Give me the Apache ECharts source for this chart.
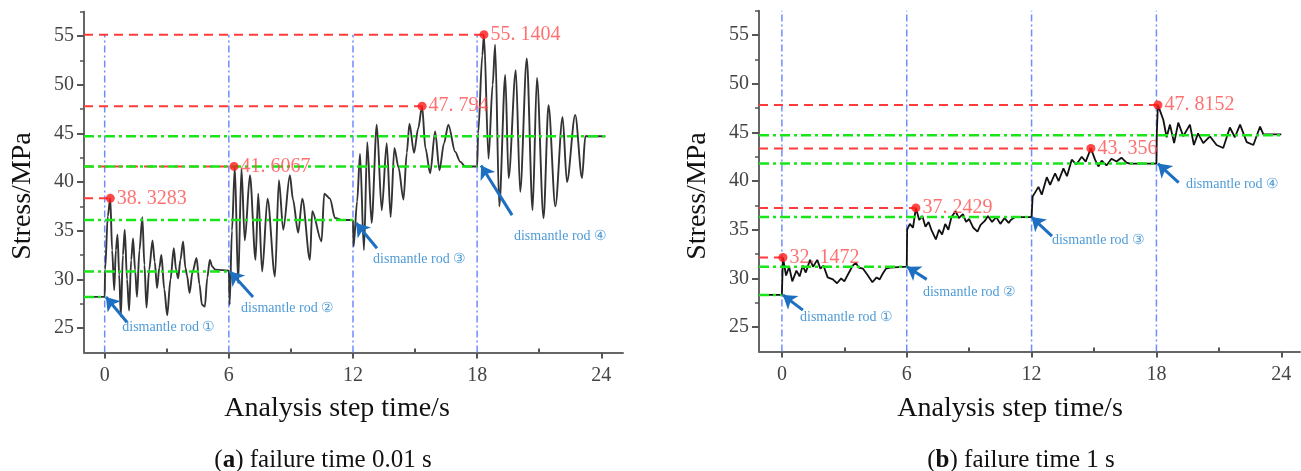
<!DOCTYPE html>
<html>
<head>
<meta charset="utf-8">
<title>Stress vs analysis step time</title>
<script src="https://cdn.jsdelivr.net/npm/echarts@6/dist/echarts.min.js"></script>
<style>
  html, body { margin: 0; padding: 0; background: #fff; }
  #chart { width: 1301px; height: 471px; }
</style>
</head>
<body>
<div id="chart"></div>
<script>
// (a) failure time 0.01 s
var timeA = [-1, 0, 0.02, 0.15, 0.27, 0.36, 0.46, 0.54, 0.62, 0.7, 0.78, 0.88, 0.97, 1.08, 1.18, 1.28, 1.37, 1.47, 1.56, 1.68, 1.82, 1.92, 2.02, 2.15, 2.31, 2.42, 2.53, 2.64, 2.74, 2.88, 3.02, 3.18, 3.34, 3.45, 3.55, 3.66, 3.79, 3.9, 3.98, 4.1, 4.25, 4.44, 4.58, 4.7, 4.84, 4.96, 5.08, 5.2, 5.35, 6.0,
  6.04, 6.15, 6.29, 6.45, 6.61, 6.77, 7.02, 7.29, 7.42, 7.61, 7.87, 8.23, 8.42, 8.63, 8.95, 9.1, 9.35, 9.55, 9.92, 10.03, 10.48, 10.61, 10.89, 11.13, 11.5, 12.0,
  12.03, 12.2, 12.34, 12.53, 12.69, 12.9, 13.15, 13.39, 13.63, 13.82, 14.0, 14.2, 14.44, 14.6, 14.73, 14.95, 15.15, 15.34, 15.5, 15.73, 15.97, 16.18, 16.4, 16.61, 16.94, 17.18, 17.42, 18.0,
  18.05, 18.25, 18.33, 18.55, 18.75, 18.87, 19.07, 19.36, 19.52, 19.87, 20.08, 20.4, 20.68, 20.89, 21.21, 21.45, 21.78, 22.13, 22.34, 22.74, 23.07, 23.23, 24.2];
var stressA = [28.2, 28.2, 31.0, 36.5, 38.33, 33.0, 28.9, 33.0, 34.6, 30.5, 26.2, 32.5, 35.1, 30.0, 26.8, 32.0, 34.2, 31.0, 28.2, 33.0, 36.4, 31.5, 27.1, 31.0, 34.0, 31.8, 29.1, 31.2, 32.5, 29.0, 26.3, 30.0, 33.2, 31.0, 30.1, 32.0, 33.9, 31.2, 30.4, 28.6, 30.8, 32.2, 29.5, 27.4, 27.2, 30.2, 32.0, 31.3, 31.0, 30.9,
  27.4, 35.0, 41.6, 29.6, 41.4, 34.0, 40.7, 32.0, 38.8, 30.8, 38.3, 30.3, 40.2, 35.1, 40.7, 38.2, 34.8, 38.3, 32.0, 37.0, 33.9, 38.8, 38.3, 36.3, 36.1, 36.1,
  33.4, 38.0, 42.9, 33.0, 44.1, 35.8, 45.9, 37.1, 44.0, 36.4, 43.5, 41.5, 38.2, 43.0, 46.0, 43.0, 45.5, 47.79, 43.5, 40.9, 45.2, 41.2, 44.0, 45.9, 43.1, 42.1, 41.6, 41.6,
  45.0, 53.0, 55.14, 42.4, 50.0, 54.1, 37.5, 51.0, 40.4, 51.5, 39.0, 52.7, 37.1, 50.7, 36.3, 47.9, 37.5, 46.7, 40.0, 46.9, 40.4, 44.7, 44.7];

// (b) failure time 1 s
var timeB = [-1.1, 0, 0.05, 0.2, 0.35, 0.5, 0.7, 0.85, 1.0, 1.15, 1.35, 1.5, 1.7, 1.85, 2.0, 2.2, 2.45, 2.65, 2.85, 3.0, 3.2, 3.4, 3.55, 3.7, 3.9, 4.1, 4.35, 4.55, 4.7, 4.85, 5.0, 5.2, 6.0,
  6.02, 6.15, 6.3, 6.44, 6.6, 6.75, 6.9, 7.05, 7.2, 7.4, 7.55, 7.7, 7.85, 8.0, 8.15, 8.35, 8.5, 8.7, 8.85, 9.0, 9.2, 9.4, 9.55, 9.75, 9.9, 10.1, 10.3, 10.5, 10.7, 10.9, 11.0, 11.2, 12.0,
  12.05, 12.33, 12.49, 12.73, 12.89, 13.13, 13.3, 13.53, 13.7, 13.93, 14.15, 14.41, 14.6, 14.85, 15.05, 15.21, 15.37, 15.6, 15.84, 16.08, 16.32, 16.56, 16.72, 18.0,
  18.02, 18.07, 18.33, 18.49, 18.65, 18.85, 19.05, 19.29, 19.61, 19.8, 20.0, 20.25, 20.57, 20.89, 21.21, 21.53, 21.77, 22.02, 22.34, 22.66, 22.98, 23.14, 24.0];
var stressB = [28.3, 28.3, 32.15, 30.3, 31.2, 29.7, 30.8, 30.2, 31.3, 30.6, 31.9, 31.2, 31.9, 31.0, 31.3, 30.1, 29.9, 29.5, 30.0, 29.7, 30.5, 31.3, 31.6, 31.1, 31.0, 30.4, 29.6, 30.1, 29.9, 30.5, 31.0, 31.1, 31.2,
  35.0, 35.6, 35.2, 37.24, 36.0, 36.4, 35.3, 35.8, 34.9, 34.0, 35.0, 34.5, 35.6, 35.0, 36.3, 36.9, 36.2, 36.6, 35.8, 36.1, 35.2, 34.8, 35.5, 35.9, 36.4, 35.8, 36.3, 35.6, 36.2, 35.7, 36.0, 36.3, 36.3,
  38.4, 39.4, 38.6, 40.4, 39.6, 40.8, 40.0, 41.3, 40.5, 42.2, 41.7, 42.5, 42.0, 43.36, 42.2, 41.5, 42.1, 41.6, 42.3, 42.0, 42.4, 41.9, 41.8, 41.8,
  45.0, 47.82, 46.3, 44.5, 45.8, 43.9, 46.0, 44.6, 45.8, 43.7, 44.9, 43.9, 44.6, 43.7, 43.4, 45.5, 44.5, 45.8, 44.0, 43.7, 45.6, 44.8, 44.8];

// peak values (red dashed lines) and where they occur
var peakA = [38.3283, 41.6067, 47.794, 55.1404];
var peakTimeA = [0.27, 6.25, 15.34, 18.33];
var peakTextA = ['38. 3283', '41. 6067', '47. 794', '55. 1404'];
var peakB = [32.1472, 37.2429, 43.356, 47.8152];
var peakTimeB = [0.05, 6.44, 14.85, 18.07];
var peakTextB = ['32. 1472', '37. 2429', '43. 356', '47. 8152'];

// stable levels (green dash-dot lines) and where they end
var levelA = [28.2, 30.8, 36.1, 41.6, 44.7];
var levelEndA = [0, 6, 12, 18, 24.2];
var levelB = [28.3, 31.2, 36.3, 41.8, 44.7];
var levelEndB = [0, 6, 12, 18, 24.0];

var stepTimes = [0, 6, 12, 18];
var rodNames = ['dismantle rod ①', 'dismantle rod ②', 'dismantle rod ③', 'dismantle rod ④'];
var xTicks = [0, 6, 12, 18, 24];
var xMinorTicks = [3, 9, 15, 21];
var yTicks = [25, 30, 35, 40, 45, 50, 55];
var yMinorTicks = [27.5, 32.5, 37.5, 42.5, 47.5, 52.5, 57.5];

// arrow annotations (tail -> tip) and label anchors, data coordinates
var arrowsA = { tail: [[1.08, 25.6], [7.17, 28.2], [13.16, 33.2], [19.69, 36.6]],
                tip:  [[0.06, 28.2], [6.06, 30.8], [12.15, 35.8], [18.19, 41.7]],
                text: [[0.85, 25.1], [6.59, 27.06], [12.97, 32.1], [19.78, 34.45]] };
var arrowsB = { tail: [[1.01, 26.74], [6.96, 29.9], [12.98, 34.35], [19.07, 39.83]],
                tip:  [[0.05, 28.3], [6.01, 31.2], [12.0, 36.3], [18.07, 41.8]],
                text: [[0.87, 26.03], [6.78, 28.6], [12.98, 33.93], [19.42, 39.7]] };

var SERIF = 'Liberation Serif, DejaVu Serif, serif';

function zip(a, b) { return a.map(function (v, i) { return [v, b[i]]; }); }

function axesFor(p, xmin, xmax) {
  var xs = [{
    type: 'value', gridIndex: p, min: xmin, max: xmax, position: 'bottom',
    axisLine: { show: true, onZero: false, lineStyle: { color: '#666', width: 2 } },
    axisTick: { show: true, customValues: xTicks, length: 6, lineStyle: { color: '#555', width: 2 } },
    axisLabel: { customValues: xTicks, margin: 13, fontFamily: SERIF, fontSize: 20, color: '#444' },
    splitLine: { show: false }
  }, {
    type: 'value', gridIndex: p, min: xmin, max: xmax, position: 'bottom',
    axisLine: { show: false, onZero: false },
    axisTick: { show: true, inside: true, customValues: xMinorTicks, length: 4, lineStyle: { color: '#555', width: 2 } },
    axisLabel: { show: false }, splitLine: { show: false }
  }];
  var ys = [{
    type: 'value', gridIndex: p, min: 22.5, max: 57.5, position: 'left',
    axisLine: { show: true, onZero: false, lineStyle: { color: '#666', width: 2 } },
    axisTick: { show: true, customValues: yTicks, length: 7, lineStyle: { color: '#555', width: 2 } },
    axisLabel: { customValues: yTicks, margin: 10, fontFamily: SERIF, fontSize: 20, color: '#444' },
    splitLine: { show: false }
  }, {
    type: 'value', gridIndex: p, min: 22.5, max: 57.5, position: 'left',
    axisLine: { show: false, onZero: false },
    axisTick: { show: true, customValues: yMinorTicks, length: 4, lineStyle: { color: '#555', width: 1.5 } },
    axisLabel: { show: false }, splitLine: { show: false }
  }];
  return { x: xs, y: ys };
}

function seriesFor(p, xmin, times, stress, peak, peakTime, peakText, level, levelEnd, vTop, arrows, smooth, lineStyle) {
  var xi = p * 2, yi = p * 2;
  var out = [];
  // blue step markers
  stepTimes.forEach(function (t) {
    out.push({ type: 'line', xAxisIndex: xi, yAxisIndex: yi, z: 1, symbol: 'none', silent: true,
      data: [[t, 22.5], [t, vTop]],
      lineStyle: { color: '#6f8cff', width: 1.5, type: [7, 3, 2, 3] } });
  });
  // stress history
  out.push({ type: 'line', xAxisIndex: xi, yAxisIndex: yi, z: 2, symbol: 'none',
    smooth: smooth, smoothMonotone: 'x',
    data: zip(times, stress), lineStyle: lineStyle });
  // arrows pointing at each removal step
  out.push({ type: 'lines', coordinateSystem: 'cartesian2d', xAxisIndex: xi, yAxisIndex: yi, z: 7,
    silent: true, symbol: ['none', 'arrow'], symbolSize: 13,
    lineStyle: { color: '#1c6fc1', width: 3, opacity: 1, curveness: 0 },
    data: arrows.tip.map(function (tip, i) { return { coords: [arrows.tail[i], tip] }; }) });
  // red peak lines
  peak.forEach(function (v, i) {
    out.push({ type: 'line', xAxisIndex: xi, yAxisIndex: yi, z: 3, symbol: 'none', silent: true,
      data: [[xmin, v], [peakTime[i], v]],
      lineStyle: { color: '#ff3b3b', width: 2, type: [9, 6] } });
  });
  // green stable levels
  level.forEach(function (v, i) {
    out.push({ type: 'line', xAxisIndex: xi, yAxisIndex: yi, z: 4, symbol: 'none', silent: true,
      data: [[xmin, v], [levelEnd[i], v]],
      lineStyle: { color: '#19e619', width: 2.5, type: [10, 4, 3, 4] } });
  });
  // peak dots + values
  out.push({ type: 'scatter', xAxisIndex: xi, yAxisIndex: yi, z: 6, symbolSize: 9,
    itemStyle: { color: '#ff1a1a' },
    data: peak.map(function (v, i) { return [peakTime[i], v, peakText[i]]; }),
    label: { show: true, position: 'right', distance: 2, color: '#ff4d4d', fontFamily: SERIF, fontSize: 20,
      formatter: function (d) { return d.value[2]; } } });
  // rod labels
  out.push({ type: 'scatter', xAxisIndex: xi, yAxisIndex: yi, z: 6, symbolSize: 0, silent: true,
    data: arrows.text.map(function (c, i) { return [c[0], c[1], rodNames[i]]; }),
    label: { show: true, position: 'right', distance: 0, color: '#1f7fcc', fontFamily: SERIF, fontSize: 14,
      formatter: function (d) { return d.value[2]; } } });
  return out;
}

function nameText(x, y, text, rotate) {
  return { type: 'text', x: x, y: y, rotation: rotate ? Math.PI / 2 : 0, z: 10,
    style: { text: text, fontFamily: SERIF, fontSize: 28, fill: '#111', align: 'center', verticalAlign: 'middle' } };
}

var axA = axesFor(0, -1, 25.05);
var axB = axesFor(1, -1.1, 24.9);

var option = {
  animation: false,
  backgroundColor: '#fff',
  grid: [
    { left: 84, top: 11.7, width: 539, height: 340.7 },
    { left: 759, top: 10.7, width: 541, height: 340.7 }
  ],
  xAxis: axA.x.concat(axB.x),
  yAxis: axA.y.concat(axB.y),
  graphic: [
    nameText(23, 196, 'Stress/MPa', true),
    nameText(698, 196, 'Stress/MPa', true),
    nameText(337, 409, 'Analysis step time/s', false),
    nameText(1010, 409, 'Analysis step time/s', false)
  ],
  title: [
    { text: '({b|a}) failure time 0.01 s', left: 318, top: 443, textAlign: 'center',
      textStyle: { fontFamily: SERIF, fontSize: 25, fontWeight: 'normal', color: '#111',
        rich: { b: { fontFamily: SERIF, fontSize: 25, fontWeight: 'bold', color: '#111' } } } },
    { text: '({b|b}) failure time 1 s', left: 1016, top: 443, textAlign: 'center',
      textStyle: { fontFamily: SERIF, fontSize: 25, fontWeight: 'normal', color: '#111',
        rich: { b: { fontFamily: SERIF, fontSize: 25, fontWeight: 'bold', color: '#111' } } } }
  ],
  series: seriesFor(0, -1, timeA, stressA, peakA, peakTimeA, peakTextA, levelA, levelEndA, 55.14, arrowsA, 0.3,
      { color: '#333', width: 1.9 })
    .concat(seriesFor(1, -1.1, timeB, stressB, peakB, peakTimeB, peakTextB, levelB, levelEndB, 57.5, arrowsB, false,
      { color: '#111', width: 1.8 }))
};

var chart = echarts.init(document.getElementById('chart'));
chart.setOption(option);
</script>
</body>
</html>
